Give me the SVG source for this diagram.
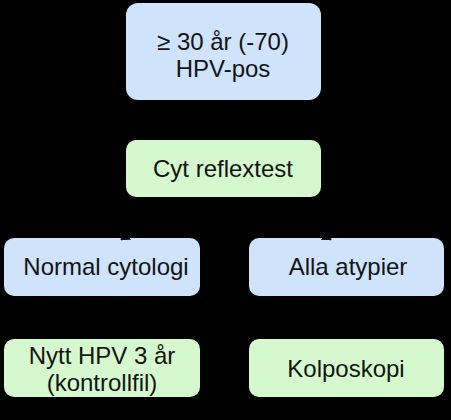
<svg xmlns="http://www.w3.org/2000/svg" width="451" height="420" viewBox="0 0 451 420">
<defs>
<style>
.blue{fill:#cfe3fa;stroke:none}
.green{fill:#d6f8cf;stroke:none}
.t{font-family:"Liberation Sans",Arial,sans-serif;font-size:24px;fill:#141414;text-anchor:middle}
.c{stroke:#000;stroke-width:2;fill:none}
</style>
<marker id="ah" markerWidth="10" markerHeight="8" refX="9" refY="4" orient="auto" markerUnits="userSpaceOnUse">
<path d="M0,0 L10,4 L0,8 Z" fill="#000"/>
</marker>
</defs>
<rect width="451" height="420" fill="#000"/>
<g id="node-hpv-pos">
<rect class="blue" x="126" y="3" width="195" height="97" rx="12"/>
<text class="t" x="223" y="50">≥ 30 år (-70)</text>
<text class="t" x="223" y="77">HPV-pos</text>
</g>
<g id="node-cyt">
<rect class="green" x="126" y="140" width="195" height="57" rx="10"/>
<text class="t" x="223" y="177">Cyt reflextest</text>
</g>
<g id="node-normal">
<rect class="blue" x="4" y="238" width="196" height="58" rx="10"/>
<text class="t" x="106" y="275">Normal cytologi</text>
</g>
<g id="node-alla">
<rect class="blue" x="249" y="238" width="195" height="58" rx="10"/>
<text class="t" x="348" y="275">Alla atypier</text>
</g>
<g id="node-nytt">
<rect class="green" x="4" y="339" width="196" height="58" rx="10"/>
<text class="t" x="102" y="363.5">Nytt HPV 3 år</text>
<text class="t" x="102" y="390.5">(kontrollfil)</text>
</g>
<g id="node-kolposkopi">
<rect class="green" x="249" y="339" width="195" height="58" rx="10"/>
<text class="t" x="346" y="377">Kolposkopi</text>
</g>
<g id="connectors">
<line class="c" x1="223" y1="100" x2="223" y2="139" marker-end="url(#ah)"/>
<line class="c" x1="223" y1="198" x2="121" y2="239.5" marker-end="url(#ah)"/>
<line class="c" x1="223" y1="198" x2="331" y2="239.5" marker-end="url(#ah)"/>
<line class="c" x1="102" y1="296" x2="102" y2="338" marker-end="url(#ah)"/>
<line class="c" x1="346" y1="296" x2="346" y2="338" marker-end="url(#ah)"/>
</g>
</svg>
